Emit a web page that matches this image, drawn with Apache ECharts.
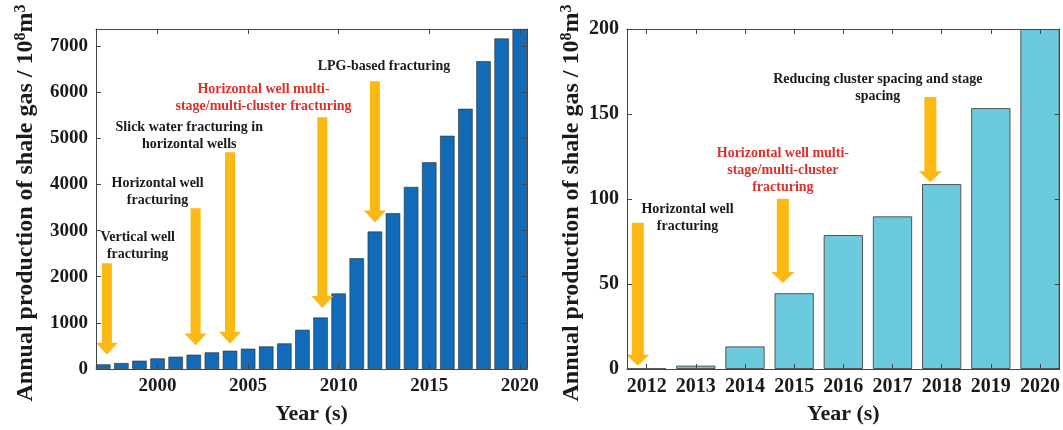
<!DOCTYPE html>
<html>
<head>
<meta charset="utf-8">
<script src="https://cdn.jsdelivr.net/npm/echarts@6/dist/echarts.min.js"></script>
<style>
html, body { margin: 0; background: #fff; }
#main { width: 1063px; height: 430px; }
</style>
</head>
<body>
<div id="main"></div>
<script>
// left panel: 1997-2020
var years1 = [1997, 1998, 1999, 2000, 2001, 2002, 2003, 2004, 2005, 2006, 2007, 2008,
              2009, 2010, 2011, 2012, 2013, 2014, 2015, 2016, 2017, 2018, 2019, 2020];
var gas1 = [100, 130, 180, 230, 266, 310, 360, 396, 440, 490, 555, 850,
            1117, 1637, 2400, 2980, 3377, 3946, 4480, 5056, 5641, 6673, 7165, 7370];
var xTicks1 = [2000, 2005, 2010, 2015, 2020];
var yTicks1 = [0, 1000, 2000, 3000, 4000, 5000, 6000, 7000];

// arrows: year, value at tail, value at tip
var arrowYear1 = [1997.2, 2002.1, 2004.0, 2009.1, 2012.0];
var arrowFrom1 = [2294, 3485, 4697, 5455, 6240];
var arrowTo1 = [310, 512, 548, 1320, 3173];

var noteYear1 = [1998.9, 2000.0, 2001.75, 2005.85, 2012.5];
var noteVal1 = [2660, 3830, 5050, 5880, 6565];
var noteText1 = ['Vertical well\nfracturing', 'Horizontal well\nfracturing',
                 'Slick water fracturing in\nhorizontal wells',
                 'Horizontal well multi-\nstage/multi-cluster fracturing',
                 'LPG-based fracturing'];
var noteRed1 = [false, false, false, true, false];

// right panel: 2012-2020
var years2 = [2012, 2013, 2014, 2015, 2016, 2017, 2018, 2019, 2020];
var gas2 = [0.3, 2, 13.3, 44.6, 78.8, 89.8, 108.8, 153.5, 200];
var yTicks2 = [0, 50, 100, 150, 200];

var arrowYear2 = [2011.82, 2014.77, 2017.77];
var arrowFrom2 = [86, 100.2, 160];
var arrowTo2 = [1.9, 50.6, 109.8];

var noteYear2 = [2012.83, 2014.77, 2016.7];
var noteVal2 = [88.8, 116.8, 165.3];
var noteText2 = ['Horizontal well\nfracturing',
                 'Horizontal well multi-\nstage/multi-cluster\nfracturing',
                 'Reducing cluster spacing and stage\nspacing'];
var noteRed2 = [false, true, false];

var chart = echarts.init(document.getElementById('main'));
var serif = '"Liberation Serif", "Times New Roman", serif';
var lineCol = '#444';
var arrowCol = '#FDB913';

function pairs(xs, ys) {
    return xs.map(function (x, i) { return [x, ys[i]]; });
}
function triples(xs, a, b) {
    return xs.map(function (x, i) { return [x, a[i], b[i]]; });
}
function plain(v) { return String(v); }

function arrowRender(shaft, headW, headH) {
    return function (params, api) {
        var from = api.coord([api.value(0), api.value(1)]);
        var to = api.coord([api.value(0), api.value(2)]);
        var x = from[0], hy = to[1] - headH;
        return {
            type: 'polygon',
            shape: {
                points: [
                    [x - shaft / 2, from[1]], [x + shaft / 2, from[1]],
                    [x + shaft / 2, hy], [x + headW / 2, hy], [x, to[1]],
                    [x - headW / 2, hy], [x - shaft / 2, hy]
                ]
            },
            style: { fill: arrowCol }
        };
    };
}

function noteRender(texts, reds) {
    return function (params, api) {
        var p = api.coord([api.value(0), api.value(1)]);
        return {
            type: 'text',
            x: p[0],
            y: p[1],
            style: {
                text: texts[params.dataIndex],
                fill: reds[params.dataIndex] ? '#D9312B' : '#1a1a1a',
                fontSize: 14,
                fontWeight: 'bold',
                fontFamily: serif,
                align: 'center',
                verticalAlign: 'middle',
                lineHeight: 17
            }
        };
    };
}

function xAxisPair(grid, min, max, ticks, fontSize) {
    var base = {
        gridIndex: grid, type: 'value', min: min, max: max, z: 5,
        splitLine: { show: false },
        axisLine: { show: true, onZero: false, lineStyle: { color: lineCol, width: 1 } },
        axisTick: { show: true, inside: true, length: 5, customValues: ticks, lineStyle: { color: lineCol } }
    };
    var bottom = Object.assign({}, base, {
        position: 'bottom',
        name: 'Year (s)', nameLocation: 'middle', nameGap: 34,
        nameTextStyle: { fontSize: 22, fontWeight: 'bold', fontFamily: serif, color: '#1a1a1a' },
        axisLabel: { customValues: ticks, formatter: plain, fontSize: fontSize, fontWeight: 'bold', fontFamily: serif, color: '#1a1a1a', margin: 8 }
    });
    var top = Object.assign({}, base, { position: 'top', axisLabel: { show: false } });
    return [bottom, top];
}

var yName = 'Annual production of shale gas / 10{sup|8}m{sup|3}';
function yAxisPair(grid, max, ticks, fontSize, gap) {
    var base = {
        gridIndex: grid, type: 'value', min: 0, max: max, z: 5,
        splitLine: { show: false },
        axisLine: { show: true, onZero: false, lineStyle: { color: lineCol, width: 1 } },
        axisTick: { show: true, inside: true, length: 5, customValues: ticks, lineStyle: { color: lineCol } }
    };
    var left = Object.assign({}, base, {
        position: 'left',
        name: yName, nameLocation: 'middle', nameGap: gap,
        nameTextStyle: {
            fontSize: 24, fontWeight: 'bold', fontFamily: serif, color: '#1a1a1a',
            padding: [0, 8, 0, 0],
            rich: { sup: { fontSize: 16, fontWeight: 'bold', fontFamily: serif, color: '#1a1a1a', padding: [0, 0, 10, 0] } }
        },
        axisLabel: { customValues: ticks, formatter: plain, fontSize: fontSize, fontWeight: 'bold', fontFamily: serif, color: '#1a1a1a', margin: 8 }
    });
    var right = Object.assign({}, base, { position: 'right', axisLabel: { show: false } });
    return [left, right];
}

var option = {
    backgroundColor: '#fff',
    animation: false,
    grid: [
        { left: 96, top: 29, width: 431, height: 340 },
        { left: 627, top: 29, width: 434, height: 340 }
    ],
    xAxis: xAxisPair(0, 1996.6, 2020.4, xTicks1, 19).concat(xAxisPair(1, 2011.6, 2020.4, years2, 20)),
    yAxis: yAxisPair(0, 7370, yTicks1, 19, 57).concat(yAxisPair(1, 200, yTicks2, 20, 42)),
    series: [
        {
            type: 'bar', xAxisIndex: 0, yAxisIndex: 0,
            data: pairs(years1, gas1),
            barWidth: '80%',
            itemStyle: { color: '#116BB9', borderColor: '#2b2b2b', borderWidth: 0.6 }
        },
        {
            type: 'bar', xAxisIndex: 2, yAxisIndex: 2,
            data: pairs(years2, gas2),
            barWidth: '80%',
            itemStyle: { color: '#6BCADD', borderColor: '#555', borderWidth: 1 }
        },
        {
            type: 'custom', xAxisIndex: 0, yAxisIndex: 0, z: 3,
            data: triples(arrowYear1, arrowFrom1, arrowTo1),
            encode: { x: 0, y: [1, 2] },
            renderItem: arrowRender(10, 22, 12)
        },
        {
            type: 'custom', xAxisIndex: 2, yAxisIndex: 2, z: 3,
            data: triples(arrowYear2, arrowFrom2, arrowTo2),
            encode: { x: 0, y: [1, 2] },
            renderItem: arrowRender(12, 23, 11)
        },
        {
            type: 'custom', xAxisIndex: 0, yAxisIndex: 0, z: 4,
            data: pairs(noteYear1, noteVal1),
            encode: { x: 0, y: 1 },
            renderItem: noteRender(noteText1, noteRed1)
        },
        {
            type: 'custom', xAxisIndex: 2, yAxisIndex: 2, z: 4,
            data: pairs(noteYear2, noteVal2),
            encode: { x: 0, y: 1 },
            renderItem: noteRender(noteText2, noteRed2)
        }
    ]
};

chart.setOption(option);
</script>
</body>
</html>
